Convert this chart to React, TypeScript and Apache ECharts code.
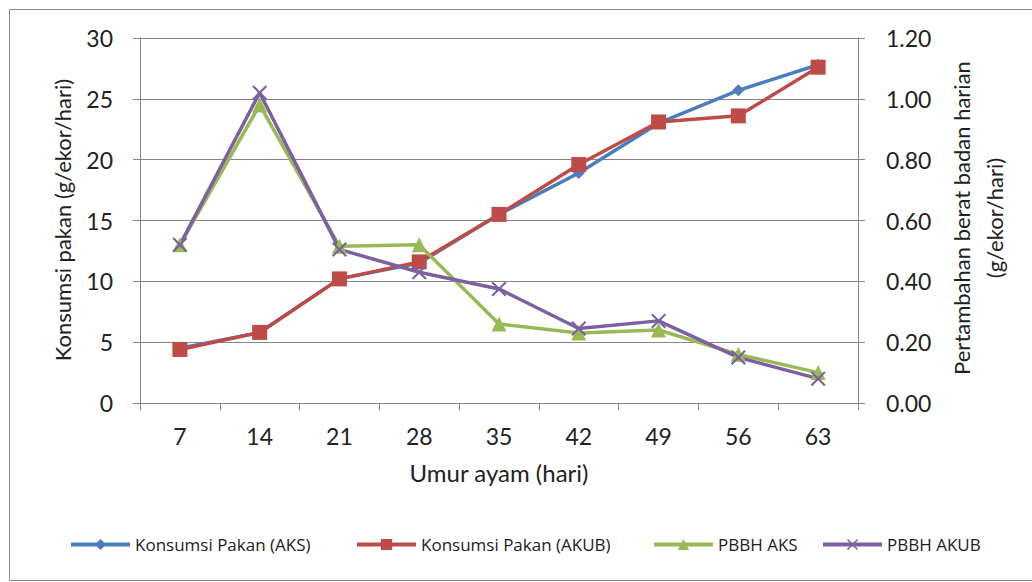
import React, { useEffect, useRef } from "react";
import * as echarts from "echarts";

const categories = ["7", "14", "21", "28", "35", "42", "49", "56", "63"];
const konsumsiAKS = [4.5, 5.8, 10.2, 11.5, 15.5, 18.9, 23.0, 25.7, 27.8];
const konsumsiAKUB = [4.4, 5.8, 10.2, 11.6, 15.5, 19.6, 23.1, 23.6, 27.6];
const pbbhAKS = [0.52, 0.98, 0.515, 0.52, 0.26, 0.23, 0.24, 0.16, 0.1];
const pbbhAKUB = [0.52, 1.02, 0.505, 0.43, 0.375, 0.245, 0.27, 0.15, 0.08];
const seriesNames = ["Konsumsi Pakan (AKS)", "Konsumsi Pakan (AKUB)", "PBBH AKS", "PBBH AKUB"];

const FONT = "Lato";
const LEGEND_FONT = "Open Sans";
const crossPath =
  "path://M0,1 L1,0 L5,4 L9,0 L10,1 L6,5 L10,9 L9,10 L5,6 L1,10 L0,9 L4,5 Z";

const legendLefts = [69, 355, 652, 821];

export default function App() {
  const ref = useRef<HTMLDivElement>(null);
  useEffect(() => {
    if (!ref.current) return;
    const chart = echarts.init(ref.current, undefined, { renderer: "svg" });
    const axisGray = "#868686";
    chart.setOption({
      animation: false,
      backgroundColor: "#ffffff",
      textStyle: { fontFamily: FONT },
      grid: { left: 140, right: 174, top: 38, bottom: 179, containLabel: false },
      xAxis: {
        type: "category",
        data: categories,
        boundaryGap: true,
        axisLine: { lineStyle: { color: axisGray, width: 1 } },
        axisTick: { show: true, length: 7, lineStyle: { color: axisGray } },
        axisLabel: { color: "#222", fontSize: 23, fontFamily: FONT, margin: 21 },
        splitLine: { show: false },
      },
      yAxis: [
        {
          type: "value",
          min: 0,
          max: 30,
          interval: 5,
          axisLine: { show: true, lineStyle: { color: axisGray } },
          axisTick: { show: true, length: 7, lineStyle: { color: axisGray } },
          axisLabel: { color: "#222", fontSize: 23, fontFamily: FONT, margin: 27 },
          splitLine: { show: true, lineStyle: { color: axisGray, width: 1 } },
        },
        {
          type: "value",
          min: 0,
          max: 1.2,
          interval: 0.2,
          position: "right",
          axisLine: { show: true, lineStyle: { color: axisGray } },
          axisTick: { show: true, length: 7, lineStyle: { color: axisGray } },
          axisLabel: {
            color: "#222",
            fontSize: 23,
            fontFamily: FONT,
            margin: 28,
            formatter: (v: number) => v.toFixed(2),
          },
          splitLine: { show: false },
        },
      ],
      legend: seriesNames.map((name, i) => ({
        data: [name],
        left: legendLefts[i],
        top: 536,
        itemWidth: 59,
        itemHeight: 14,
        padding: 0,
        lineStyle: { width: 4 },
        textStyle: { fontSize: 17, fontFamily: LEGEND_FONT, color: "#222" },
      })),
      series: [
        {
          name: seriesNames[0],
          type: "line",
          data: konsumsiAKS,
          yAxisIndex: 0,
          symbol: "diamond",
          symbolSize: 12,
          lineStyle: { color: "#4a7ebb", width: 3.5 },
          itemStyle: { color: "#4a7ebb" },
        },
        {
          name: seriesNames[1],
          type: "line",
          data: konsumsiAKUB,
          yAxisIndex: 0,
          symbol: "rect",
          symbolSize: 15,
          lineStyle: { color: "#be4b48", width: 3.5 },
          itemStyle: { color: "#be4b48" },
        },
        {
          name: seriesNames[2],
          type: "line",
          data: pbbhAKS,
          yAxisIndex: 1,
          symbol: "triangle",
          symbolSize: 15,
          lineStyle: { color: "#98b954", width: 3.5 },
          itemStyle: { color: "#98b954" },
        },
        {
          name: seriesNames[3],
          type: "line",
          data: pbbhAKUB,
          yAxisIndex: 1,
          symbol: crossPath,
          symbolSize: 15,
          lineStyle: { color: "#7d60a0", width: 3.5 },
          itemStyle: { color: "#7d60a0" },
        },
      ],
      graphic: [
        {
          type: "rect",
          shape: { x: 9.5, y: 9.5, width: 1030, height: 571 },
          style: { fill: "none", stroke: "#8a8a8a", lineWidth: 1 },
          silent: true,
          z: -1,
        },
        {
          type: "text",
          x: 62,
          y: 220,
          rotation: Math.PI / 2,
          style: {
            text: "Konsumsi pakan (g/ekor/hari)",
            fontSize: 22,
            fontFamily: FONT,
            fill: "#222",
            align: "center",
            verticalAlign: "middle",
          },
        },
        {
          type: "text",
          x: 978,
          y: 218,
          rotation: Math.PI / 2,
          style: {
            text: "Pertambahan berat badan harian\n(g/ekor/hari)",
            fontSize: 22,
            fontFamily: FONT,
            fill: "#222",
            align: "center",
            verticalAlign: "middle",
            lineHeight: 33,
          },
        },
        {
          type: "text",
          x: 499,
          y: 472,
          style: {
            text: "Umur ayam (hari)",
            fontSize: 24,
            fontFamily: FONT,
            fill: "#222",
            align: "center",
            verticalAlign: "middle",
          },
        },
      ],
    });
    return () => chart.dispose();
  }, []);
  return (
    <div
      ref={ref}
      style={{ position: "fixed", left: 0, top: 0, width: 1032, height: 582 }}
    />
  );
}
